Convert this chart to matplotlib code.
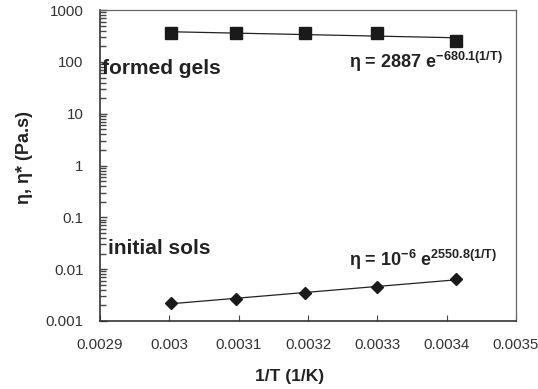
import numpy as np
import matplotlib
matplotlib.use('Agg')
import matplotlib.pyplot as plt
from matplotlib.ticker import FixedLocator, NullFormatter

plt.rcParams['font.family'] = ['Liberation Sans', 'DejaVu Sans']
plt.rcParams['mathtext.fontset'] = 'custom'
plt.rcParams['mathtext.rm'] = 'Liberation Sans'
plt.rcParams['mathtext.bf'] = 'Liberation Sans:bold'
plt.rcParams['mathtext.it'] = 'Liberation Sans:italic'

# 1/T for 60, 50, 40, 30, 20 C
inv_T = [0.003003, 0.003096, 0.003195, 0.003300, 0.003413]
gels = [358, 358, 356, 364, 257]          # formed gels, eta* (Pa.s)
sols = [0.00225, 0.00264, 0.00343, 0.00459, 0.00638]  # initial sols, eta (Pa.s)

x_ticks = [0.0029, 0.003, 0.0031, 0.0032, 0.0033, 0.0034, 0.0035]
x_labels = ['0.0029', '0.003', '0.0031', '0.0032', '0.0033', '0.0034', '0.0035']
y_ticks = [0.001, 0.01, 0.1, 1, 10, 100, 1000]
y_labels = ['0.001', '0.01', '0.1', '1', '10', '100', '1000']

fig = plt.figure(figsize=(5.38, 3.89), dpi=100)
ax = fig.add_axes([0.186, 0.175, 0.773, 0.799])

x = np.array(inv_T)
for vals, mk, ms in [(gels, 's', 8.5), (sols, 'D', 6.5)]:
    # exponential trendline through the points
    k, b = np.polyfit(x, np.log(vals), 1)
    xf = np.linspace(x[0], x[-1], 50)
    ax.plot(xf, np.exp(b + k * xf), color='#222222', lw=0.9, zorder=2)
    ax.plot(x, vals, linestyle='none', marker=mk, ms=ms, color='#1a1a1a', zorder=3)

ax.set_yscale('log')
ax.set_xlim(0.0029, 0.0035)
ax.set_ylim(0.001, 1000)
ax.set_xticks(x_ticks)
ax.set_xticklabels(x_labels)
ax.set_yticks(y_ticks)
ax.set_yticklabels(y_labels)
minor = [d * m for d in y_ticks[:-1] for m in range(2, 10)]
ax.yaxis.set_minor_locator(FixedLocator(minor))
ax.yaxis.set_minor_formatter(NullFormatter())
ax.tick_params(axis='both', which='both', direction='in', labelsize=10.8,
               labelcolor='#333333', color='#444444')
ax.tick_params(axis='x', which='major', length=4, pad=12)
ax.tick_params(axis='y', which='major', length=5, width=1, pad=12)
ax.tick_params(axis='y', which='minor', left=True, length=4, width=1)
ax.tick_params(axis='x', which='minor', bottom=False)

for side in ['left', 'bottom']:
    ax.spines[side].set_color('#333333')
    ax.spines[side].set_linewidth(1.2)
for side in ['top', 'right']:
    ax.spines[side].set_color('#666666')
    ax.spines[side].set_linewidth(0.9)

fig.text(0.539, 0.031, '1/T (1/K)', fontsize=12.5, fontweight='bold',
         color='#222222', ha='center', va='center')
fig.text(0.046, 0.594, 'η, η* (Pa.s)', fontsize=13, fontweight='bold',
         color='#222222', ha='center', va='center', rotation=90)

ax.text(0.002903, 73, 'formed gels', fontsize=15, fontweight='bold',
        color='#222222', va='center', ha='left')
ax.text(0.002911, 0.0245, 'initial sols', fontsize=15, fontweight='bold',
        color='#222222', va='center', ha='left')

ax.text(0.0034815, 100, r'η = $\mathbf{2887\ e^{-680.1(1/T)}}$', fontsize=13,
        fontweight='bold', color='#222222', va='center', ha='right')
ax.text(0.003473, 0.0151, r'η = $\mathbf{10^{-6}\ e^{2550.8(1/T)}}$', fontsize=13,
        fontweight='bold', color='#222222', va='center', ha='right')

fig.savefig('out.png', dpi=100)
